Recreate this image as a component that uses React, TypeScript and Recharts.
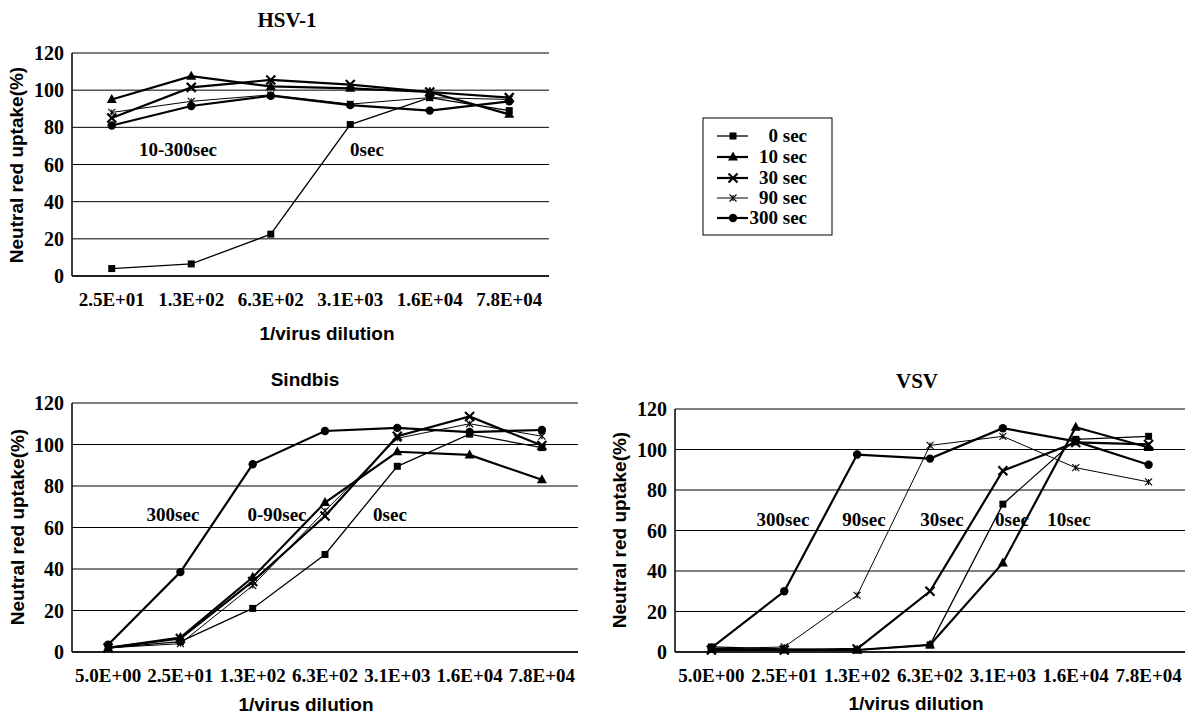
import React from 'react';
import { LineChart, Line, XAxis, YAxis, CartesianGrid } from 'recharts';

// ---------- data ----------
const seriesNames = ['0 sec', '10 sec', '30 sec', '90 sec', '300 sec'];
const yTicks = [0, 20, 40, 60, 80, 100, 120];

const hsvCategories = ['2.5E+01', '1.3E+02', '6.3E+02', '3.1E+03', '1.6E+04', '7.8E+04'];
const hsv0 = [4, 6.5, 22.5, 81.5, 96, 89];
const hsv10 = [95, 107.5, 102, 101, 99, 87];
const hsv30 = [85, 101.5, 105.5, 103, 99, 96];
const hsv90 = [88, 94, 97.5, 92.5, 96, 95];
const hsv300 = [81, 91.5, 97, 92, 89, 94];

const sinCategories = ['5.0E+00', '2.5E+01', '1.3E+02', '6.3E+02', '3.1E+03', '1.6E+04', '7.8E+04'];
const sin0 = [2, 5, 21, 47, 89.5, 105, 98.5];
const sin10 = [2, 7, 36, 72, 96.5, 95, 83];
const sin30 = [2, 6.5, 34, 65.5, 104, 113.5, 99.5];
const sin90 = [2, 4, 32, 68, 103, 110, 104];
const sin300 = [3.5, 38.5, 90.5, 106.5, 108, 106, 107];

const vsvCategories = ['5.0E+00', '2.5E+01', '1.3E+02', '6.3E+02', '3.1E+03', '1.6E+04', '7.8E+04'];
const vsv0 = [2.5, 1.5, 1, 3.5, 73, 105, 106.5];
const vsv10 = [1.5, 1, 1, 3.5, 44, 111, 101];
const vsv30 = [1, 1, 1.5, 30, 89.5, 103.5, 102.5];
const vsv90 = [1.5, 2.5, 28, 102, 106.5, 91, 84];
const vsv300 = [2, 30, 97.5, 95.5, 110.5, 104, 92.5];

// ---------- styles ----------
const SERIF = "'Liberation Serif', 'Times New Roman', serif";
const SANS = "'Liberation Sans', Arial, sans-serif";

type Shape = 'square' | 'triangle' | 'x' | 'star' | 'circle';
const seriesStyle: { shape: Shape; width: number }[] = [
  { shape: 'square', width: 1.3 },
  { shape: 'triangle', width: 2.2 },
  { shape: 'x', width: 2.2 },
  { shape: 'star', width: 1 },
  { shape: 'circle', width: 2.2 },
];

function Marker({ cx, cy, shape }: { cx: number; cy: number; shape: Shape }) {
  if (cx == null || cy == null || isNaN(cx) || isNaN(cy)) return null;
  switch (shape) {
    case 'square':
      return <rect x={cx - 3.5} y={cy - 3.5} width={7} height={7} fill="#000" />;
    case 'triangle':
      return (
        <polygon
          points={`${cx},${cy - 5.5} ${cx - 5},${cy + 3.5} ${cx + 5},${cy + 3.5}`}
          fill="#000"
        />
      );
    case 'x':
      return (
        <g stroke="#000" strokeWidth={2.2}>
          <line x1={cx - 4.5} y1={cy - 4.5} x2={cx + 4.5} y2={cy + 4.5} />
          <line x1={cx - 4.5} y1={cy + 4.5} x2={cx + 4.5} y2={cy - 4.5} />
        </g>
      );
    case 'star':
      return (
        <g stroke="#000" strokeWidth={1.1}>
          <line x1={cx - 3.5} y1={cy - 3.5} x2={cx + 3.5} y2={cy + 3.5} />
          <line x1={cx - 3.5} y1={cy + 3.5} x2={cx + 3.5} y2={cy - 3.5} />
          <line x1={cx} y1={cy - 3} x2={cx} y2={cy + 3} />
        </g>
      );
    case 'circle':
    default:
      return <circle cx={cx} cy={cy} r={4.2} fill="#000" />;
  }
}

const XTick = (props: any) => {
  const { x, y, payload } = props;
  return (
    <text
      x={x}
      y={y + 30}
      textAnchor="middle"
      fontFamily={SERIF}
      fontWeight="bold"
      fontSize={19}
      fill="#000"
    >
      {payload.value}
    </text>
  );
};

const YTick = (props: any) => {
  const { x, y, payload } = props;
  return (
    <text
      x={x - 8}
      y={y + 7}
      textAnchor="end"
      fontFamily={SERIF}
      fontWeight="bold"
      fontSize={20}
      fill="#000"
    >
      {payload.value}
    </text>
  );
};

type PanelProps = {
  categories: string[];
  series: number[][];
  width: number;
  height: number;
  margin: { top: number; right: number; left: number; bottom: number };
  yAxisWidth: number;
  xAxisHeight: number;
  pad: number;
  left: number;
  top: number;
};

function Panel({ categories, series, width, height, margin, yAxisWidth, xAxisHeight, pad, left, top }: PanelProps) {
  const data = categories.map((c, i) => {
    const row: any = { cat: c };
    series.forEach((s, k) => {
      row['s' + k] = s[i];
    });
    return row;
  });
  return (
    <div style={{ position: 'absolute', left, top, width, height }}>
      <LineChart width={width} height={height} data={data} margin={margin}>
        <CartesianGrid horizontal vertical={false} stroke="#000" strokeWidth={1} />
        <XAxis
          dataKey="cat"
          height={xAxisHeight}
          padding={{ left: pad, right: pad }}
          tickLine={false}
          tickSize={0}
          tickMargin={0}
          axisLine={{ stroke: '#000', strokeWidth: 1.5 }}
          tick={<XTick />}
          interval={0}
        />
        <XAxis
          xAxisId="top"
          orientation="top"
          dataKey="cat"
          height={0}
          padding={{ left: pad, right: pad }}
          tick={false}
          tickLine={false}
          axisLine={{ stroke: '#000', strokeWidth: 1.5 }}
        />
        <YAxis
          domain={[0, 120]}
          ticks={yTicks}
          width={yAxisWidth}
          tickLine={false}
          tickSize={0}
          tickMargin={0}
          axisLine={{ stroke: '#000', strokeWidth: 1.5 }}
          tick={<YTick />}
          interval={0}
        />
        <YAxis
          yAxisId="right"
          orientation="right"
          domain={[0, 120]}
          ticks={yTicks}
          width={0}
          tick={false}
          tickLine={false}
          axisLine={{ stroke: '#000', strokeWidth: 1.5 }}
        />
        {series.map((_, k) => (
          <Line
            key={k}
            type="linear"
            dataKey={'s' + k}
            name={seriesNames[k]}
            stroke="#000"
            strokeWidth={seriesStyle[k].width}
            isAnimationActive={false}
            activeDot={false}
            dot={(p: any) => (
              <Marker key={`${k}-${p.index}`} cx={p.cx} cy={p.cy} shape={seriesStyle[k].shape} />
            )}
          />
        ))}
      </LineChart>
    </div>
  );
}

const T = (props: any) => {
  const { x, y, children, size = 19, family = SERIF, anchor = 'middle', rotate } = props;
  return (
    <text
      x={rotate ? 0 : x}
      y={rotate ? 0 : y}
      transform={rotate ? `translate(${x},${y}) rotate(-90)` : undefined}
      textAnchor={anchor}
      dominantBaseline={rotate ? 'central' : undefined}
      fontFamily={family}
      fontWeight="bold"
      fontSize={size}
      fill="#000"
    >
      {children}
    </text>
  );
};

function Legend() {
  const rows = [18, 39, 60, 80, 100];
  return (
    <g transform="translate(703,118)">
      <rect x={0} y={0} width={129} height={117} fill="#fff" stroke="#000" strokeWidth={1} />
      {seriesNames.map((n, k) => (
        <g key={n}>
          <line x1={14} y1={rows[k]} x2={45} y2={rows[k]} stroke="#000" strokeWidth={seriesStyle[k].width} />
          <Marker cx={30} cy={rows[k]} shape={seriesStyle[k].shape} />
          <text
            x={104}
            y={rows[k] + 6}
            textAnchor="end"
            fontFamily={SERIF}
            fontWeight="bold"
            fontSize={19}
            fill="#000"
          >
            {n}
          </text>
        </g>
      ))}
    </g>
  );
}

export default function App() {
  return (
    <div style={{ position: 'absolute', left: 0, top: 0, width: 1195, height: 718, background: '#fff', overflow: 'hidden' }}>
      <Panel
        categories={hsvCategories}
        series={[hsv0, hsv10, hsv30, hsv90, hsv300]}
        left={0}
        top={0}
        width={560}
        height={350}
        margin={{ top: 53, right: 11, left: 0, bottom: 0 }}
        yAxisWidth={72}
        xAxisHeight={74}
        pad={39.75}
      />
      <Panel
        categories={sinCategories}
        series={[sin0, sin10, sin30, sin90, sin300]}
        left={0}
        top={380}
        width={590}
        height={338}
        margin={{ top: 23, right: 12, left: 0, bottom: 0 }}
        yAxisWidth={72}
        xAxisHeight={66}
        pad={36.1}
      />
      <Panel
        categories={vsvCategories}
        series={[vsv0, vsv10, vsv30, vsv90, vsv300]}
        left={590}
        top={380}
        width={605}
        height={338}
        margin={{ top: 29, right: 10, left: 0, bottom: 0 }}
        yAxisWidth={85}
        xAxisHeight={66}
        pad={36.4}
      />
      <svg
        width={1195}
        height={718}
        style={{ position: 'absolute', left: 0, top: 0, pointerEvents: 'none' }}
      >
        {/* titles */}
        <T x={287} y={27} size={21}>HSV-1</T>
        <T x={305} y={386} size={19} family={SANS}>Sindbis</T>
        <T x={917} y={388} size={21}>VSV</T>
        {/* y-axis titles */}
        <T x={16} y={165} size={19} family={SANS} rotate>Neutral red uptake(%)</T>
        <T x={17} y={527} size={19} family={SANS} rotate>Neutral red uptake(%)</T>
        <T x={619} y={530} size={19} family={SANS} rotate>Neutral red uptake(%)</T>
        {/* x-axis titles */}
        <T x={327} y={340} size={19} family={SANS}>1/virus dilution</T>
        <T x={306} y={711} size={19} family={SANS}>1/virus dilution</T>
        <T x={916} y={710} size={19} family={SANS}>1/virus dilution</T>
        {/* annotations */}
        <T x={178} y={156}>10-300sec</T>
        <T x={367} y={156}>0sec</T>
        <T x={173} y={521}>300sec</T>
        <T x={277} y={521}>0-90sec</T>
        <T x={390} y={521}>0sec</T>
        <T x={783} y={526}>300sec</T>
        <T x={864} y={526}>90sec</T>
        <T x={942} y={526}>30sec</T>
        <T x={1012} y={526}>0sec</T>
        <T x={1069} y={526}>10sec</T>
        <Legend />
      </svg>
    </div>
  );
}
